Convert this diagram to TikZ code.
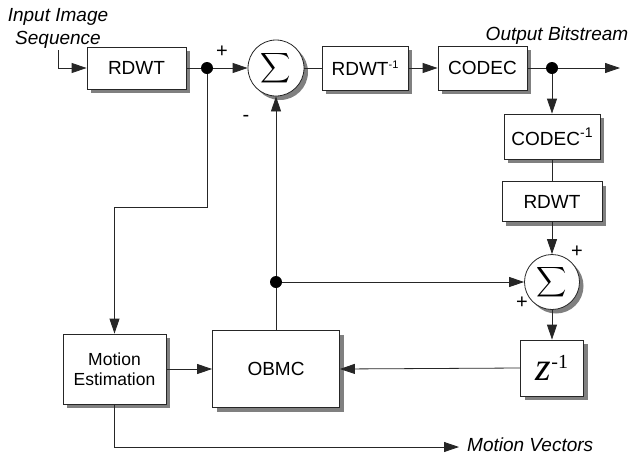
\documentclass[tikz,border=0pt]{standalone}
\usepackage{fontspec}
\usepackage{graphicx}
\setmainfont{Liberation Sans}
\newfontfamily\serifz{Liberation Serif}
\usetikzlibrary{arrows.meta,shadows}
\newcommand{\bigsigma}{\scalebox{2.1}{$\displaystyle\sum$}}
\begin{document}
\begin{tikzpicture}[x=1pt,y=-1pt,
  line/.style={draw=black!85, line width=0.8pt},
  arr/.style={line, -{Triangle[length=15pt,width=10pt]}},
  shad/.style={general shadow={fill=black!50, shadow xshift=4pt, shadow yshift=-4pt}},
  blk/.style={draw=black!85, line width=0.8pt, fill=white, shad, inner sep=0pt,
    font=\fontsize{19}{22}\selectfont, align=center},
  sumn/.style={circle, draw=black!85, line width=0.8pt, fill=white, shad,
    minimum size=56pt, inner sep=0pt},
  dot/.style={circle, fill=black, minimum size=12pt, inner sep=0pt},
  lbl/.style={font=\fontsize{19}{23}\selectfont\itshape, align=center, inner sep=0pt},
  sgn/.style={font=\fontsize{20}{20}\selectfont, inner sep=0pt}]
\useasboundingbox (0,0) rectangle (632,456);

% blocks
\node[blk, minimum width=99pt, minimum height=42pt] (rdwt) at (136.5,68) {RDWT};
\node[sumn] (s1) at (276,68) {\bigsigma};
\node[blk, minimum width=86pt, minimum height=44pt] (rdwti) at (365,68)
  {RDWT\raisebox{7pt}{\fontsize{11}{11}\selectfont -1}};
\node[blk, minimum width=89pt, minimum height=44pt] (codec) at (482.5,68) {CODEC};
\node[blk, minimum width=96pt, minimum height=45pt] (codeci) at (552,136.5)
  {CODEC\raisebox{8pt}{\fontsize{14}{14}\selectfont -1}};
\node[blk, minimum width=100pt, minimum height=40pt] (rdwt2) at (552,201.5) {RDWT};
\node[sumn, minimum size=55pt] (s2) at (552,282) {\bigsigma};
\node[blk, minimum width=63pt, minimum height=56pt] (zb) at (552,368)
  {{\serifz\fontsize{40}{40}\selectfont\itshape z}\raisebox{12pt}{\serifz\fontsize{20}{20}\selectfont -1}};
\node[blk, minimum width=127pt, minimum height=77pt] (obmc) at (276,369) {OBMC};
\node[blk, minimum width=103pt, minimum height=70pt, font=\fontsize{17.5}{20}\selectfont]
  (me) at (114.5,369) {Motion\\Estimation};

% labels
\node[lbl] (inl) at (58,28) {Input Image\\Sequence};
\node[lbl] (outl) at (557,36) {Output Bitstream};
\node[lbl, anchor=west] (mvl) at (467,445) {Motion Vectors};
\node[sgn] (p1) at (222,52) {+};
\node[sgn] (m1) at (246,118) {-};
\node[sgn] (p2) at (577,252) {+};
\node[sgn] (p3) at (522,303) {+};

% junctions and free ends
\node[dot] (d1) at (207,68) {};
\node[dot] (d2) at (552,68) {};
\node[dot] (d3) at (276,282) {};
\coordinate (in0) at (58,50);
\coordinate (out) at (620,68);
\coordinate (bend1) at (207,207);
\coordinate (mvend) at (459,447);

% connectors
\draw[arr] (in0) |- (rdwt.west);
\draw[line] (rdwt.east) -- (d1);
\draw[arr] (d1) -- (s1.west);
\draw[line] (s1.east) -- (rdwti.west);
\draw[arr] (rdwti.east) -- (codec.west);
\draw[line] (codec.east) -- (d2);
\draw[arr] (d2) -- (out);
\draw[arr] (d2) -- (codeci.north);
\draw[line] (codeci.south) -- (rdwt2.north);
\draw[arr] (rdwt2.south) -- (s2.north);
\draw[arr] (s2.south) -- (zb.north);
\draw[arr] (zb.west) -- (obmc.east);
\draw[line] (obmc.north) -- (d3);
\draw[arr] (d3) -- (s1.south);
\draw[arr] (d3) -- (s2.west);
\draw[arr] (me.east) -- (obmc.west);
\draw[arr] (d1) -- (bend1) -| (me.north);
\draw[arr] (me.south) |- (mvend);
\end{tikzpicture}
\end{document}
